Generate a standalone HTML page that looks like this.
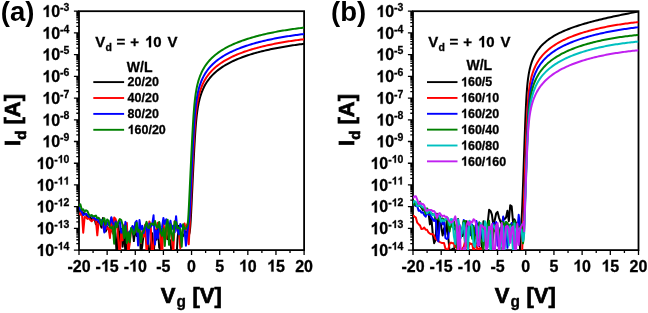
<!DOCTYPE html>
<html><head><meta charset="utf-8"><style>
html,body{margin:0;padding:0;background:#fff;}
svg{display:block;will-change:transform;}
text{font-family:"Liberation Sans",sans-serif;font-weight:bold;fill:#000;stroke:#000;stroke-width:0.3px;}
.big{stroke-width:0.7px;}
.nost{stroke-width:0;}
.one{fill-opacity:0;stroke-opacity:0;}
</style></head><body>
<svg width="648" height="313" viewBox="0 0 648 313">
<defs><clipPath id="ca"><rect x="79.0" y="11.2" width="225.10000000000002" height="238.9"/></clipPath><clipPath id="cb"><rect x="413.0" y="11.2" width="225.5" height="238.9"/></clipPath></defs>
<rect x="79.0" y="11.2" width="225.10000000000002" height="238.9" fill="none" stroke="#000" stroke-width="1.8"/>
<path d="M73.90 250.10H79.0M76.30 243.56H79.0M76.30 239.74H79.0M76.30 237.02H79.0M76.30 234.92H79.0M76.30 233.20H79.0M76.30 231.75H79.0M76.30 230.49H79.0M76.30 229.38H79.0M73.90 228.38H79.0M76.30 221.84H79.0M76.30 218.02H79.0M76.30 215.31H79.0M76.30 213.20H79.0M76.30 211.48H79.0M76.30 210.03H79.0M76.30 208.77H79.0M76.30 207.66H79.0M73.90 206.66H79.0M76.30 200.13H79.0M76.30 196.30H79.0M76.30 193.59H79.0M76.30 191.48H79.0M76.30 189.76H79.0M76.30 188.31H79.0M76.30 187.05H79.0M76.30 185.94H79.0M73.90 184.95H79.0M76.30 178.41H79.0M76.30 174.58H79.0M76.30 171.87H79.0M76.30 169.77H79.0M76.30 168.05H79.0M76.30 166.59H79.0M76.30 165.33H79.0M76.30 164.22H79.0M73.90 163.23H79.0M76.30 156.69H79.0M76.30 152.87H79.0M76.30 150.15H79.0M76.30 148.05H79.0M76.30 146.33H79.0M76.30 144.87H79.0M76.30 143.61H79.0M76.30 142.50H79.0M73.90 141.51H79.0M76.30 134.97H79.0M76.30 131.15H79.0M76.30 128.43H79.0M76.30 126.33H79.0M76.30 124.61H79.0M76.30 123.16H79.0M76.30 121.90H79.0M76.30 120.78H79.0M73.90 119.79H79.0M76.30 113.25H79.0M76.30 109.43H79.0M76.30 106.72H79.0M76.30 104.61H79.0M76.30 102.89H79.0M76.30 101.44H79.0M76.30 100.18H79.0M76.30 99.07H79.0M73.90 98.07H79.0M76.30 91.53H79.0M76.30 87.71H79.0M76.30 85.00H79.0M76.30 82.89H79.0M76.30 81.17H79.0M76.30 79.72H79.0M76.30 78.46H79.0M76.30 77.35H79.0M73.90 76.35H79.0M76.30 69.82H79.0M76.30 65.99H79.0M76.30 63.28H79.0M76.30 61.17H79.0M76.30 59.45H79.0M76.30 58.00H79.0M76.30 56.74H79.0M76.30 55.63H79.0M73.90 54.64H79.0M76.30 48.10H79.0M76.30 44.27H79.0M76.30 41.56H79.0M76.30 39.46H79.0M76.30 37.74H79.0M76.30 36.28H79.0M76.30 35.02H79.0M76.30 33.91H79.0M73.90 32.92H79.0M76.30 26.38H79.0M76.30 22.56H79.0M76.30 19.84H79.0M76.30 17.74H79.0M76.30 16.02H79.0M76.30 14.56H79.0M76.30 13.30H79.0M76.30 12.19H79.0M73.90 11.20H79.0M79.00 250.1V255.1M93.07 250.1V253.1M107.14 250.1V255.1M121.21 250.1V253.1M135.28 250.1V255.1M149.34 250.1V253.1M163.41 250.1V255.1M177.48 250.1V253.1M191.55 250.1V255.1M205.62 250.1V253.1M219.69 250.1V255.1M233.76 250.1V253.1M247.83 250.1V255.1M261.89 250.1V253.1M275.96 250.1V255.1M290.03 250.1V253.1M304.10 250.1V255.1" stroke="#000" stroke-width="1.3" fill="none"/>
<text transform="matrix(1 0 0 1.03 0 -7.677)" x="69.4" y="255.90" font-size="16" text-anchor="end"><tspan class="one">1</tspan>0<tspan font-size="10.5" dy="-6.0">-<tspan class="one">1</tspan>4</tspan></text>
<text transform="matrix(1 0 0 1.03 0 -7.025)" x="69.4" y="234.18" font-size="16" text-anchor="end"><tspan class="one">1</tspan>0<tspan font-size="10.5" dy="-6.0">-<tspan class="one">1</tspan>3</tspan></text>
<text transform="matrix(1 0 0 1.03 0 -6.374)" x="69.4" y="212.46" font-size="16" text-anchor="end"><tspan class="one">1</tspan>0<tspan font-size="10.5" dy="-6.0">-<tspan class="one">1</tspan>2</tspan></text>
<text transform="matrix(1 0 0 1.03 0 -5.723)" x="69.4" y="190.75" font-size="16" text-anchor="end"><tspan class="one">1</tspan>0<tspan font-size="10.5" dy="-6.0">-<tspan class="one">1</tspan><tspan class="one">1</tspan></tspan></text>
<text transform="matrix(1 0 0 1.03 0 -5.071)" x="69.4" y="169.03" font-size="16" text-anchor="end"><tspan class="one">1</tspan>0<tspan font-size="10.5" dy="-6.0">-<tspan class="one">1</tspan>0</tspan></text>
<text transform="matrix(1 0 0 1.03 0 -4.419)" x="69.4" y="147.31" font-size="16" text-anchor="end"><tspan class="one">1</tspan>0<tspan font-size="10.5" dy="-6.0">-9</tspan></text>
<text transform="matrix(1 0 0 1.03 0 -3.768)" x="69.4" y="125.59" font-size="16" text-anchor="end"><tspan class="one">1</tspan>0<tspan font-size="10.5" dy="-6.0">-8</tspan></text>
<text transform="matrix(1 0 0 1.03 0 -3.116)" x="69.4" y="103.87" font-size="16" text-anchor="end"><tspan class="one">1</tspan>0<tspan font-size="10.5" dy="-6.0">-7</tspan></text>
<text transform="matrix(1 0 0 1.03 0 -2.465)" x="69.4" y="82.15" font-size="16" text-anchor="end"><tspan class="one">1</tspan>0<tspan font-size="10.5" dy="-6.0">-6</tspan></text>
<text transform="matrix(1 0 0 1.03 0 -1.813)" x="69.4" y="60.44" font-size="16" text-anchor="end"><tspan class="one">1</tspan>0<tspan font-size="10.5" dy="-6.0">-5</tspan></text>
<text transform="matrix(1 0 0 1.03 0 -1.162)" x="69.4" y="38.72" font-size="16" text-anchor="end"><tspan class="one">1</tspan>0<tspan font-size="10.5" dy="-6.0">-4</tspan></text>
<text transform="matrix(1 0 0 1.03 0 -0.510)" x="69.4" y="17.00" font-size="16" text-anchor="end"><tspan class="one">1</tspan>0<tspan font-size="10.5" dy="-6.0">-3</tspan></text>
<text transform="matrix(1 0 0 1.03 0 -8.148)" x="79.00" y="271.6" font-size="16" text-anchor="middle">-20</text>
<text transform="matrix(1 0 0 1.03 0 -8.148)" x="107.14" y="271.6" font-size="16" text-anchor="middle">-<tspan class="one">1</tspan>5</text>
<text transform="matrix(1 0 0 1.03 0 -8.148)" x="135.28" y="271.6" font-size="16" text-anchor="middle">-<tspan class="one">1</tspan>0</text>
<text transform="matrix(1 0 0 1.03 0 -8.148)" x="163.41" y="271.6" font-size="16" text-anchor="middle">-5</text>
<text transform="matrix(1 0 0 1.03 0 -8.148)" x="191.55" y="271.6" font-size="16" text-anchor="middle">0</text>
<text transform="matrix(1 0 0 1.03 0 -8.148)" x="219.69" y="271.6" font-size="16" text-anchor="middle">5</text>
<text transform="matrix(1 0 0 1.03 0 -8.148)" x="247.83" y="271.6" font-size="16" text-anchor="middle"><tspan class="one">1</tspan>0</text>
<text transform="matrix(1 0 0 1.03 0 -8.148)" x="275.96" y="271.6" font-size="16" text-anchor="middle"><tspan class="one">1</tspan>5</text>
<text transform="matrix(1 0 0 1.03 0 -8.148)" x="304.10" y="271.6" font-size="16" text-anchor="middle">20</text>
<text transform="matrix(1 0 0 1.03 0 -9.096)" class="big" x="160.80" y="303.2" font-size="22">V</text>
<text transform="matrix(1 0 0 1.03 0 -9.219)" x="176.60" y="307.3" font-size="15.5">g</text>
<text transform="matrix(1 0 0 1.03 0 -9.096)" class="big" x="192.40" y="303.2" font-size="22">[V]</text>
<text class="big" transform="translate(19.50,120) rotate(-90) scale(1,1.03)" font-size="22" text-anchor="middle">I<tspan font-size="15" dy="6">d</tspan><tspan dy="-6"> [A]</tspan></text>
<rect x="413.0" y="11.2" width="225.5" height="238.9" fill="none" stroke="#000" stroke-width="1.8"/>
<path d="M407.90 250.10H413.0M410.30 243.56H413.0M410.30 239.74H413.0M410.30 237.02H413.0M410.30 234.92H413.0M410.30 233.20H413.0M410.30 231.75H413.0M410.30 230.49H413.0M410.30 229.38H413.0M407.90 228.38H413.0M410.30 221.84H413.0M410.30 218.02H413.0M410.30 215.31H413.0M410.30 213.20H413.0M410.30 211.48H413.0M410.30 210.03H413.0M410.30 208.77H413.0M410.30 207.66H413.0M407.90 206.66H413.0M410.30 200.13H413.0M410.30 196.30H413.0M410.30 193.59H413.0M410.30 191.48H413.0M410.30 189.76H413.0M410.30 188.31H413.0M410.30 187.05H413.0M410.30 185.94H413.0M407.90 184.95H413.0M410.30 178.41H413.0M410.30 174.58H413.0M410.30 171.87H413.0M410.30 169.77H413.0M410.30 168.05H413.0M410.30 166.59H413.0M410.30 165.33H413.0M410.30 164.22H413.0M407.90 163.23H413.0M410.30 156.69H413.0M410.30 152.87H413.0M410.30 150.15H413.0M410.30 148.05H413.0M410.30 146.33H413.0M410.30 144.87H413.0M410.30 143.61H413.0M410.30 142.50H413.0M407.90 141.51H413.0M410.30 134.97H413.0M410.30 131.15H413.0M410.30 128.43H413.0M410.30 126.33H413.0M410.30 124.61H413.0M410.30 123.16H413.0M410.30 121.90H413.0M410.30 120.78H413.0M407.90 119.79H413.0M410.30 113.25H413.0M410.30 109.43H413.0M410.30 106.72H413.0M410.30 104.61H413.0M410.30 102.89H413.0M410.30 101.44H413.0M410.30 100.18H413.0M410.30 99.07H413.0M407.90 98.07H413.0M410.30 91.53H413.0M410.30 87.71H413.0M410.30 85.00H413.0M410.30 82.89H413.0M410.30 81.17H413.0M410.30 79.72H413.0M410.30 78.46H413.0M410.30 77.35H413.0M407.90 76.35H413.0M410.30 69.82H413.0M410.30 65.99H413.0M410.30 63.28H413.0M410.30 61.17H413.0M410.30 59.45H413.0M410.30 58.00H413.0M410.30 56.74H413.0M410.30 55.63H413.0M407.90 54.64H413.0M410.30 48.10H413.0M410.30 44.27H413.0M410.30 41.56H413.0M410.30 39.46H413.0M410.30 37.74H413.0M410.30 36.28H413.0M410.30 35.02H413.0M410.30 33.91H413.0M407.90 32.92H413.0M410.30 26.38H413.0M410.30 22.56H413.0M410.30 19.84H413.0M410.30 17.74H413.0M410.30 16.02H413.0M410.30 14.56H413.0M410.30 13.30H413.0M410.30 12.19H413.0M407.90 11.20H413.0M413.00 250.1V255.1M427.09 250.1V253.1M441.19 250.1V255.1M455.28 250.1V253.1M469.38 250.1V255.1M483.47 250.1V253.1M497.56 250.1V255.1M511.66 250.1V253.1M525.75 250.1V255.1M539.84 250.1V253.1M553.94 250.1V255.1M568.03 250.1V253.1M582.12 250.1V255.1M596.22 250.1V253.1M610.31 250.1V255.1M624.41 250.1V253.1M638.50 250.1V255.1" stroke="#000" stroke-width="1.3" fill="none"/>
<text transform="matrix(1 0 0 1.03 0 -7.677)" x="403.4" y="255.90" font-size="16" text-anchor="end"><tspan class="one">1</tspan>0<tspan font-size="10.5" dy="-6.0">-<tspan class="one">1</tspan>4</tspan></text>
<text transform="matrix(1 0 0 1.03 0 -7.025)" x="403.4" y="234.18" font-size="16" text-anchor="end"><tspan class="one">1</tspan>0<tspan font-size="10.5" dy="-6.0">-<tspan class="one">1</tspan>3</tspan></text>
<text transform="matrix(1 0 0 1.03 0 -6.374)" x="403.4" y="212.46" font-size="16" text-anchor="end"><tspan class="one">1</tspan>0<tspan font-size="10.5" dy="-6.0">-<tspan class="one">1</tspan>2</tspan></text>
<text transform="matrix(1 0 0 1.03 0 -5.723)" x="403.4" y="190.75" font-size="16" text-anchor="end"><tspan class="one">1</tspan>0<tspan font-size="10.5" dy="-6.0">-<tspan class="one">1</tspan><tspan class="one">1</tspan></tspan></text>
<text transform="matrix(1 0 0 1.03 0 -5.071)" x="403.4" y="169.03" font-size="16" text-anchor="end"><tspan class="one">1</tspan>0<tspan font-size="10.5" dy="-6.0">-<tspan class="one">1</tspan>0</tspan></text>
<text transform="matrix(1 0 0 1.03 0 -4.419)" x="403.4" y="147.31" font-size="16" text-anchor="end"><tspan class="one">1</tspan>0<tspan font-size="10.5" dy="-6.0">-9</tspan></text>
<text transform="matrix(1 0 0 1.03 0 -3.768)" x="403.4" y="125.59" font-size="16" text-anchor="end"><tspan class="one">1</tspan>0<tspan font-size="10.5" dy="-6.0">-8</tspan></text>
<text transform="matrix(1 0 0 1.03 0 -3.116)" x="403.4" y="103.87" font-size="16" text-anchor="end"><tspan class="one">1</tspan>0<tspan font-size="10.5" dy="-6.0">-7</tspan></text>
<text transform="matrix(1 0 0 1.03 0 -2.465)" x="403.4" y="82.15" font-size="16" text-anchor="end"><tspan class="one">1</tspan>0<tspan font-size="10.5" dy="-6.0">-6</tspan></text>
<text transform="matrix(1 0 0 1.03 0 -1.813)" x="403.4" y="60.44" font-size="16" text-anchor="end"><tspan class="one">1</tspan>0<tspan font-size="10.5" dy="-6.0">-5</tspan></text>
<text transform="matrix(1 0 0 1.03 0 -1.162)" x="403.4" y="38.72" font-size="16" text-anchor="end"><tspan class="one">1</tspan>0<tspan font-size="10.5" dy="-6.0">-4</tspan></text>
<text transform="matrix(1 0 0 1.03 0 -0.510)" x="403.4" y="17.00" font-size="16" text-anchor="end"><tspan class="one">1</tspan>0<tspan font-size="10.5" dy="-6.0">-3</tspan></text>
<text transform="matrix(1 0 0 1.03 0 -8.148)" x="413.00" y="271.6" font-size="16" text-anchor="middle">-20</text>
<text transform="matrix(1 0 0 1.03 0 -8.148)" x="441.19" y="271.6" font-size="16" text-anchor="middle">-<tspan class="one">1</tspan>5</text>
<text transform="matrix(1 0 0 1.03 0 -8.148)" x="469.38" y="271.6" font-size="16" text-anchor="middle">-<tspan class="one">1</tspan>0</text>
<text transform="matrix(1 0 0 1.03 0 -8.148)" x="497.56" y="271.6" font-size="16" text-anchor="middle">-5</text>
<text transform="matrix(1 0 0 1.03 0 -8.148)" x="525.75" y="271.6" font-size="16" text-anchor="middle">0</text>
<text transform="matrix(1 0 0 1.03 0 -8.148)" x="553.94" y="271.6" font-size="16" text-anchor="middle">5</text>
<text transform="matrix(1 0 0 1.03 0 -8.148)" x="582.12" y="271.6" font-size="16" text-anchor="middle"><tspan class="one">1</tspan>0</text>
<text transform="matrix(1 0 0 1.03 0 -8.148)" x="610.31" y="271.6" font-size="16" text-anchor="middle"><tspan class="one">1</tspan>5</text>
<text transform="matrix(1 0 0 1.03 0 -8.148)" x="638.50" y="271.6" font-size="16" text-anchor="middle">20</text>
<text transform="matrix(1 0 0 1.03 0 -9.096)" class="big" x="494.80" y="303.2" font-size="22">V</text>
<text transform="matrix(1 0 0 1.03 0 -9.219)" x="510.60" y="307.3" font-size="15.5">g</text>
<text transform="matrix(1 0 0 1.03 0 -9.096)" class="big" x="526.40" y="303.2" font-size="22">[V]</text>
<text class="big" transform="translate(353.50,120) rotate(-90) scale(1,1.03)" font-size="22" text-anchor="middle">I<tspan font-size="15" dy="6">d</tspan><tspan dy="-6"> [A]</tspan></text>
<g clip-path="url(#ca)" fill="none" stroke-width="2" stroke-linejoin="round">
<path stroke="#000000" d="M79.00 209.47 L80.41 210.44 L81.81 210.64 L83.22 213.47 L84.63 213.25 L86.03 214.64 L87.44 216.58 L88.85 217.20 L90.25 217.47 L91.66 219.36 L93.07 219.14 L94.48 218.28 L95.88 224.31 L97.29 221.82 L98.70 222.13 L100.10 223.38 L101.51 227.66 L102.92 218.06 L104.32 223.24 L105.73 231.44 L107.14 226.40 L108.54 229.66 L109.95 233.24 L111.36 228.27 L112.77 232.22 L114.17 224.81 L115.58 234.27 L116.99 261.30 L118.39 225.23 L119.80 241.40 L121.21 229.07 L122.61 246.74 L124.02 229.64 L125.43 253.48 L126.83 232.89 L128.24 258.41 L129.65 233.51 L131.05 232.42 L132.46 227.79 L133.87 241.04 L135.28 227.56 L136.68 236.02 L138.09 230.31 L139.50 228.15 L140.90 254.01 L142.31 245.49 L143.72 233.27 L145.12 231.82 L146.53 229.13 L147.94 230.22 L149.34 268.55 L150.75 246.54 L152.16 233.18 L153.56 253.85 L154.97 237.92 L156.38 239.70 L157.79 225.85 L159.19 247.55 L160.60 249.91 L162.01 231.04 L163.41 237.02 L164.82 231.43 L166.23 232.85 L167.63 238.98 L169.04 239.59 L170.45 240.57 L171.85 257.46 L173.26 263.77 L174.67 268.50 L176.07 265.72 L177.48 239.55 L178.89 225.87 L180.30 233.87 L181.70 234.79 L183.11 236.10 L184.52 233.60 L185.92 231.29 L186.09 231.59 L186.26 231.89 L186.43 232.18 L186.60 232.48 L186.77 232.77 L186.94 233.07 L187.10 233.36 L187.27 233.65 L187.33 233.75 L187.44 233.89 L187.61 234.10 L187.78 234.31 L187.95 234.50 L188.12 234.69 L188.29 234.87 L188.45 235.02 L188.62 235.14 L188.74 235.19 L188.79 235.09 L188.96 234.75 L189.13 234.33 L189.30 233.80 L189.47 233.13 L189.64 232.27 L189.81 231.18 L189.97 229.82 L190.14 228.15 L190.31 226.21 L190.48 223.93 L190.65 221.35 L190.82 218.51 L190.99 215.46 L191.16 212.25 L191.32 208.92 L191.49 205.50 L191.55 204.34 L191.66 202.02 L191.83 198.51 L192.00 194.97 L192.17 191.42 L192.34 187.86 L192.51 184.31 L192.68 180.76 L192.84 177.26 L193.01 173.74 L193.18 170.25 L193.35 166.80 L193.52 163.39 L193.69 160.02 L193.86 156.71 L194.03 153.47 L194.19 150.29 L194.36 147.20 L194.53 144.20 L194.70 141.30 L194.87 138.51 L195.04 135.83 L195.21 133.27 L195.38 130.84 L195.55 128.53 L195.71 126.35 L195.88 124.29 L196.05 122.35 L196.22 120.52 L196.39 118.80 L196.56 117.18 L196.73 115.66 L196.90 114.23 L197.06 112.88 L197.23 111.60 L197.40 110.39 L197.57 109.25 L197.74 108.16 L197.91 107.13 L198.08 106.15 L198.25 105.22 L198.42 104.33 L198.58 103.48 L198.75 102.66 L198.92 101.88 L199.09 101.13 L199.26 100.41 L199.43 99.72 L199.60 99.05 L199.77 98.41 L199.93 97.78 L199.99 97.58 L201.40 93.13 L202.81 89.56 L204.21 86.58 L205.62 84.02 L207.03 81.79 L208.43 79.80 L209.84 78.00 L211.25 76.37 L212.65 74.87 L214.06 73.49 L215.47 72.21 L216.87 71.01 L218.28 69.89 L219.69 68.84 L221.09 67.84 L222.50 66.90 L223.91 66.00 L225.31 65.15 L226.72 64.33 L228.13 63.56 L229.54 62.81 L230.94 62.10 L232.35 61.42 L233.76 60.76 L235.16 60.13 L236.57 59.52 L237.98 58.93 L239.38 58.36 L240.79 57.81 L242.20 57.28 L243.60 56.76 L245.01 56.27 L246.42 55.78 L247.83 55.31 L249.23 54.86 L250.64 54.42 L252.05 53.99 L253.45 53.57 L254.86 53.16 L256.27 52.77 L257.67 52.39 L259.08 52.01 L260.49 51.65 L261.89 51.29 L263.30 50.95 L264.71 50.61 L266.11 50.28 L267.52 49.96 L268.93 49.65 L270.34 49.34 L271.74 49.04 L273.15 48.75 L274.56 48.47 L275.96 48.19 L277.37 47.92 L278.78 47.66 L280.18 47.40 L281.59 47.15 L283.00 46.90 L284.40 46.66 L285.81 46.42 L287.22 46.19 L288.62 45.97 L290.03 45.75 L291.44 45.54 L292.85 45.33 L294.25 45.12 L295.66 44.92 L297.07 44.73 L298.47 44.54 L299.88 44.35 L301.29 44.17 L302.69 43.99 L304.10 43.82"/>
<path stroke="#ff0000" d="M79.00 212.77 L80.41 214.75 L81.81 210.63 L83.22 232.64 L84.63 217.10 L86.03 217.25 L87.44 218.97 L88.85 218.15 L90.25 219.93 L91.66 221.23 L93.07 219.56 L94.48 219.75 L95.88 219.62 L97.29 235.36 L98.70 220.85 L100.10 221.02 L101.51 222.76 L102.92 225.17 L104.32 231.11 L105.73 222.87 L107.14 229.09 L108.54 227.97 L109.95 237.91 L111.36 217.89 L112.77 233.48 L114.17 217.56 L115.58 218.98 L116.99 223.49 L118.39 240.45 L119.80 256.12 L121.21 231.95 L122.61 240.37 L124.02 225.22 L125.43 225.82 L126.83 222.96 L128.24 253.29 L129.65 244.01 L131.05 230.37 L132.46 226.91 L133.87 227.20 L135.28 225.33 L136.68 231.67 L138.09 230.74 L139.50 231.87 L140.90 242.76 L142.31 231.11 L143.72 236.64 L145.12 224.75 L146.53 251.61 L147.94 242.60 L149.34 221.47 L150.75 225.24 L152.16 261.61 L153.56 244.40 L154.97 232.02 L156.38 228.52 L157.79 222.70 L159.19 230.92 L160.60 235.82 L162.01 259.59 L163.41 223.48 L164.82 232.63 L166.23 238.68 L167.63 224.72 L169.04 232.74 L170.45 230.17 L171.85 237.37 L173.26 254.07 L174.67 221.26 L176.07 225.36 L177.48 230.96 L178.89 229.96 L180.30 248.25 L181.70 236.39 L183.11 229.32 L184.52 223.58 L185.92 229.72 L186.09 229.05 L186.26 228.38 L186.43 227.71 L186.60 227.04 L186.77 226.38 L186.94 225.71 L187.10 225.03 L187.27 224.36 L187.33 224.14 L187.44 226.31 L187.61 229.54 L187.78 232.73 L187.95 235.83 L188.12 238.75 L188.29 241.30 L188.45 243.23 L188.62 244.20 L188.74 244.18 L188.79 243.19 L188.96 240.19 L189.13 237.13 L189.30 234.01 L189.47 230.84 L189.64 227.62 L189.81 224.36 L189.97 221.05 L190.14 217.70 L190.31 214.49 L190.48 211.19 L190.65 207.82 L190.82 204.40 L190.99 200.93 L191.16 197.43 L191.32 193.90 L191.49 190.37 L191.55 189.18 L191.66 186.83 L191.83 183.29 L192.00 179.75 L192.17 176.22 L192.34 172.69 L192.51 169.19 L192.68 165.71 L192.84 162.27 L193.01 158.86 L193.18 155.50 L193.35 152.19 L193.52 148.94 L193.69 145.77 L193.86 142.67 L194.03 139.67 L194.19 136.77 L194.36 133.98 L194.53 131.31 L194.70 128.75 L194.87 126.31 L195.04 124.01 L195.21 121.82 L195.38 119.76 L195.55 117.82 L195.71 115.99 L195.88 114.27 L196.05 112.65 L196.22 111.13 L196.39 109.70 L196.56 108.35 L196.73 107.08 L196.90 105.87 L197.06 104.73 L197.23 103.65 L197.40 102.62 L197.57 101.64 L197.74 100.71 L197.91 99.82 L198.08 98.97 L198.25 98.15 L198.42 97.37 L198.58 96.62 L198.75 95.90 L198.92 95.21 L199.09 94.54 L199.26 93.90 L199.43 93.27 L199.60 92.67 L199.77 92.09 L199.93 91.52 L199.99 91.34 L201.40 87.25 L202.81 83.92 L204.21 81.11 L205.62 78.67 L207.03 76.53 L208.43 74.62 L209.84 72.88 L211.25 71.30 L212.65 69.85 L214.06 68.51 L215.47 67.25 L216.87 66.09 L218.28 64.99 L219.69 63.95 L221.09 62.98 L222.50 62.05 L223.91 61.17 L225.31 60.33 L226.72 59.53 L228.13 58.77 L229.54 58.03 L230.94 57.33 L232.35 56.66 L233.76 56.01 L235.16 55.38 L236.57 54.78 L237.98 54.20 L239.38 53.64 L240.79 53.09 L242.20 52.57 L243.60 52.06 L245.01 51.56 L246.42 51.09 L247.83 50.62 L249.23 50.17 L250.64 49.73 L252.05 49.31 L253.45 48.90 L254.86 48.49 L256.27 48.10 L257.67 47.72 L259.08 47.35 L260.49 46.99 L261.89 46.64 L263.30 46.29 L264.71 45.96 L266.11 45.63 L267.52 45.31 L268.93 45.00 L270.34 44.70 L271.74 44.40 L273.15 44.12 L274.56 43.83 L275.96 43.56 L277.37 43.29 L278.78 43.03 L280.18 42.77 L281.59 42.52 L283.00 42.28 L284.40 42.04 L285.81 41.80 L287.22 41.57 L288.62 41.35 L290.03 41.13 L291.44 40.92 L292.85 40.71 L294.25 40.51 L295.66 40.31 L297.07 40.12 L298.47 39.93 L299.88 39.75 L301.29 39.56 L302.69 39.39 L304.10 39.22"/>
<path stroke="#0000ff" d="M79.00 207.26 L80.41 210.19 L81.81 212.14 L83.22 215.00 L84.63 214.31 L86.03 213.70 L87.44 215.17 L88.85 217.00 L90.25 215.81 L91.66 216.00 L93.07 218.03 L94.48 218.17 L95.88 219.93 L97.29 217.99 L98.70 221.64 L100.10 223.29 L101.51 220.08 L102.92 222.79 L104.32 232.44 L105.73 226.49 L107.14 222.59 L108.54 225.08 L109.95 223.64 L111.36 217.19 L112.77 223.11 L114.17 225.16 L115.58 221.52 L116.99 225.47 L118.39 223.49 L119.80 221.42 L121.21 232.68 L122.61 229.59 L124.02 234.84 L125.43 221.87 L126.83 235.71 L128.24 239.83 L129.65 231.36 L131.05 230.81 L132.46 226.04 L133.87 234.28 L135.28 222.61 L136.68 220.91 L138.09 245.50 L139.50 220.07 L140.90 229.60 L142.31 225.82 L143.72 232.99 L145.12 227.18 L146.53 223.68 L147.94 244.04 L149.34 223.46 L150.75 226.75 L152.16 224.83 L153.56 215.27 L154.97 244.49 L156.38 230.43 L157.79 238.44 L159.19 222.49 L160.60 232.29 L162.01 227.44 L163.41 217.89 L164.82 224.04 L166.23 219.33 L167.63 221.24 L169.04 228.73 L170.45 220.65 L171.85 229.33 L173.26 225.59 L174.67 232.38 L176.07 216.20 L177.48 230.65 L178.89 234.41 L180.30 224.00 L181.70 226.51 L183.11 227.46 L184.52 229.43 L185.92 245.77 L186.09 244.12 L186.26 242.47 L186.43 240.81 L186.60 239.14 L186.77 237.48 L186.94 235.80 L187.10 234.12 L187.27 232.43 L187.33 231.87 L187.44 231.17 L187.61 230.11 L187.78 229.02 L187.95 227.89 L188.12 226.70 L188.29 225.44 L188.45 224.09 L188.62 222.64 L188.74 221.61 L188.79 221.86 L188.96 222.10 L189.13 221.43 L189.30 219.86 L189.47 217.55 L189.64 214.70 L189.81 211.51 L189.97 208.12 L190.14 204.62 L190.31 201.00 L190.48 197.38 L190.65 193.76 L190.82 190.16 L190.99 186.55 L191.16 182.96 L191.32 179.37 L191.49 175.80 L191.55 174.61 L191.66 172.25 L191.83 168.72 L192.00 165.21 L192.17 161.72 L192.34 158.26 L192.51 154.84 L192.68 151.46 L192.84 148.14 L193.01 144.87 L193.18 141.67 L193.35 138.55 L193.52 135.52 L193.69 132.59 L193.86 129.76 L194.03 127.04 L194.19 124.44 L194.36 121.97 L194.53 119.62 L194.70 117.39 L194.87 115.29 L195.04 113.31 L195.21 111.44 L195.38 109.69 L195.55 108.04 L195.71 106.49 L195.88 105.02 L196.05 103.65 L196.22 102.35 L196.39 101.12 L196.56 99.96 L196.73 98.86 L196.90 97.82 L197.06 96.83 L197.23 95.89 L197.40 94.98 L197.57 94.12 L197.74 93.29 L197.91 92.50 L198.08 91.74 L198.25 91.01 L198.42 90.31 L198.58 89.63 L198.75 88.98 L198.92 88.35 L199.09 87.74 L199.26 87.15 L199.43 86.58 L199.60 86.03 L199.77 85.49 L199.93 84.97 L199.99 84.80 L201.40 80.98 L202.81 77.84 L204.21 75.16 L205.62 72.83 L207.03 70.76 L208.43 68.91 L209.84 67.23 L211.25 65.69 L212.65 64.28 L214.06 62.96 L215.47 61.74 L216.87 60.59 L218.28 59.52 L219.69 58.50 L221.09 57.54 L222.50 56.63 L223.91 55.76 L225.31 54.93 L226.72 54.15 L228.13 53.39 L229.54 52.67 L230.94 51.97 L232.35 51.31 L233.76 50.67 L235.16 50.05 L236.57 49.45 L237.98 48.88 L239.38 48.32 L240.79 47.78 L242.20 47.26 L243.60 46.76 L245.01 46.27 L246.42 45.79 L247.83 45.33 L249.23 44.89 L250.64 44.45 L252.05 44.03 L253.45 43.62 L254.86 43.22 L256.27 42.83 L257.67 42.46 L259.08 42.09 L260.49 41.73 L261.89 41.38 L263.30 41.04 L264.71 40.71 L266.11 40.38 L267.52 40.07 L268.93 39.76 L270.34 39.46 L271.74 39.16 L273.15 38.87 L274.56 38.59 L275.96 38.32 L277.37 38.05 L278.78 37.79 L280.18 37.54 L281.59 37.29 L283.00 37.05 L284.40 36.81 L285.81 36.58 L287.22 36.35 L288.62 36.13 L290.03 35.91 L291.44 35.70 L292.85 35.49 L294.25 35.29 L295.66 35.09 L297.07 34.90 L298.47 34.71 L299.88 34.53 L301.29 34.35 L302.69 34.18 L304.10 34.00"/>
<path stroke="#008000" d="M79.00 206.43 L80.41 204.41 L81.81 209.71 L83.22 209.38 L84.63 211.66 L86.03 210.25 L87.44 211.14 L88.85 214.49 L90.25 216.04 L91.66 214.97 L93.07 216.39 L94.48 216.03 L95.88 215.59 L97.29 218.16 L98.70 217.78 L100.10 219.87 L101.51 224.89 L102.92 220.11 L104.32 218.20 L105.73 224.56 L107.14 219.49 L108.54 220.79 L109.95 227.25 L111.36 228.30 L112.77 226.26 L114.17 243.75 L115.58 223.11 L116.99 227.16 L118.39 221.79 L119.80 219.02 L121.21 220.07 L122.61 224.95 L124.02 238.13 L125.43 226.03 L126.83 243.04 L128.24 232.14 L129.65 242.17 L131.05 227.88 L132.46 230.35 L133.87 234.55 L135.28 231.24 L136.68 222.85 L138.09 231.68 L139.50 229.73 L140.90 242.51 L142.31 232.73 L143.72 230.47 L145.12 226.47 L146.53 221.86 L147.94 227.51 L149.34 227.94 L150.75 223.65 L152.16 223.61 L153.56 225.01 L154.97 221.05 L156.38 226.64 L157.79 227.60 L159.19 221.90 L160.60 231.99 L162.01 235.79 L163.41 228.50 L164.82 246.03 L166.23 224.76 L167.63 219.74 L169.04 244.84 L170.45 224.23 L171.85 233.29 L173.26 240.52 L174.67 221.54 L176.07 222.07 L177.48 228.26 L178.89 227.63 L180.30 229.41 L181.70 246.75 L183.11 224.18 L184.52 228.96 L185.92 228.20 L186.09 227.99 L186.26 227.77 L186.43 227.52 L186.60 227.23 L186.77 226.88 L186.94 226.46 L187.10 225.94 L187.27 225.28 L187.33 225.02 L187.44 224.80 L187.61 224.19 L187.78 223.17 L187.95 221.71 L188.12 219.78 L188.29 217.44 L188.45 214.73 L188.62 211.75 L188.74 209.64 L188.79 208.51 L188.96 205.09 L189.13 201.61 L189.30 198.10 L189.47 194.57 L189.64 191.01 L189.81 187.44 L189.97 183.86 L190.14 180.28 L190.31 176.70 L190.48 173.13 L190.65 169.56 L190.82 166.01 L190.99 162.47 L191.16 158.95 L191.32 155.45 L191.49 151.99 L191.55 150.85 L191.66 148.57 L191.83 145.19 L192.00 141.86 L192.17 138.59 L192.34 135.39 L192.51 132.27 L192.68 129.24 L192.84 126.31 L193.01 123.48 L193.18 120.76 L193.35 118.16 L193.52 115.69 L193.69 113.34 L193.86 111.11 L194.03 109.01 L194.19 107.03 L194.36 105.17 L194.53 103.41 L194.70 101.76 L194.87 100.21 L195.04 98.75 L195.21 97.37 L195.38 96.07 L195.55 94.84 L195.71 93.68 L195.88 92.59 L196.05 91.54 L196.22 90.55 L196.39 89.61 L196.56 88.71 L196.73 87.85 L196.90 87.03 L197.06 86.25 L197.23 85.49 L197.40 84.76 L197.57 84.06 L197.74 83.38 L197.91 82.73 L198.08 82.10 L198.25 81.49 L198.42 80.90 L198.58 80.33 L198.75 79.77 L198.92 79.24 L199.09 78.72 L199.26 78.21 L199.43 77.72 L199.60 77.24 L199.77 76.77 L199.93 76.31 L199.99 76.16 L201.40 72.78 L202.81 69.93 L204.21 67.47 L205.62 65.31 L207.03 63.37 L208.43 61.63 L209.84 60.03 L211.25 58.57 L212.65 57.22 L214.06 55.96 L215.47 54.78 L216.87 53.68 L218.28 52.64 L219.69 51.65 L221.09 50.72 L222.50 49.84 L223.91 49.00 L225.31 48.19 L226.72 47.42 L228.13 46.69 L229.54 45.98 L230.94 45.30 L232.35 44.65 L233.76 44.02 L235.16 43.42 L236.57 42.83 L237.98 42.27 L239.38 41.72 L240.79 41.19 L242.20 40.68 L243.60 40.19 L245.01 39.71 L246.42 39.24 L247.83 38.79 L249.23 38.35 L250.64 37.92 L252.05 37.50 L253.45 37.10 L254.86 36.71 L256.27 36.32 L257.67 35.95 L259.08 35.59 L260.49 35.23 L261.89 34.89 L263.30 34.55 L264.71 34.22 L266.11 33.90 L267.52 33.59 L268.93 33.29 L270.34 32.99 L271.74 32.70 L273.15 32.42 L274.56 32.14 L275.96 31.87 L277.37 31.60 L278.78 31.35 L280.18 31.09 L281.59 30.85 L283.00 30.61 L284.40 30.37 L285.81 30.14 L287.22 29.92 L288.62 29.70 L290.03 29.48 L291.44 29.28 L292.85 29.07 L294.25 28.87 L295.66 28.68 L297.07 28.49 L298.47 28.30 L299.88 28.12 L301.29 27.94 L302.69 27.77 L304.10 27.60"/>
</g>
<g clip-path="url(#cb)" fill="none" stroke-width="2" stroke-linejoin="round">
<path stroke="#000000" d="M413.00 203.35 L414.41 202.42 L415.82 205.62 L417.23 205.17 L418.64 205.78 L420.05 205.42 L421.46 207.64 L422.87 210.13 L424.27 209.18 L425.68 211.54 L427.09 213.51 L428.50 212.47 L429.91 224.37 L431.32 217.36 L432.73 233.64 L434.14 243.21 L435.55 240.05 L436.96 213.73 L438.37 233.19 L439.78 215.80 L441.19 226.54 L442.60 235.44 L444.01 228.32 L445.42 234.34 L446.82 220.48 L448.23 236.78 L449.64 252.11 L451.05 250.84 L452.46 248.77 L453.87 252.92 L455.28 237.64 L456.69 225.28 L458.10 219.09 L459.51 242.66 L460.92 234.50 L462.33 235.99 L463.74 222.18 L465.15 245.94 L466.56 221.25 L467.97 239.23 L469.38 225.86 L470.78 227.51 L472.19 228.29 L473.60 231.12 L475.01 228.02 L476.42 245.94 L477.83 232.98 L479.24 246.11 L480.65 227.67 L482.06 247.89 L483.47 221.19 L484.88 238.24 L486.29 231.26 L487.70 223.45 L489.11 209.78 L490.52 210.91 L491.93 214.57 L493.33 225.44 L494.74 220.28 L496.15 213.45 L497.56 211.88 L498.97 217.56 L500.38 221.39 L501.79 223.88 L503.20 217.63 L504.61 219.19 L506.02 217.63 L507.43 210.66 L508.84 221.23 L510.25 205.16 L511.66 206.31 L513.07 222.48 L514.48 219.33 L515.88 222.82 L517.29 224.65 L518.70 226.36 L520.11 249.13 L520.28 245.62 L520.45 242.08 L520.62 238.51 L520.79 234.90 L520.96 231.24 L521.13 227.54 L521.30 223.78 L521.47 219.96 L521.52 218.67 L521.63 217.53 L521.80 215.23 L521.97 212.21 L522.14 208.58 L522.31 204.48 L522.48 200.05 L522.65 195.42 L522.82 190.65 L522.93 187.43 L522.99 185.81 L523.16 180.93 L523.33 176.04 L523.50 171.13 L523.66 166.23 L523.83 161.34 L524.00 156.47 L524.17 151.62 L524.34 146.81 L524.51 142.04 L524.68 137.33 L524.85 132.70 L525.02 128.17 L525.19 123.75 L525.36 119.47 L525.52 115.37 L525.69 111.46 L525.86 107.76 L526.03 104.29 L526.20 101.06 L526.37 98.07 L526.54 95.32 L526.71 92.79 L526.88 90.47 L527.05 88.34 L527.22 86.39 L527.38 84.60 L527.55 82.94 L527.72 81.41 L527.89 79.99 L528.06 78.67 L528.23 77.44 L528.40 76.28 L528.57 75.20 L528.74 74.17 L528.91 73.20 L529.08 72.29 L529.25 71.42 L529.41 70.59 L529.58 69.80 L529.75 69.04 L529.92 68.31 L530.09 67.62 L530.26 66.95 L530.43 66.31 L530.60 65.69 L530.77 65.09 L530.94 64.51 L531.11 63.95 L531.27 63.41 L531.44 62.89 L531.61 62.39 L531.78 61.90 L531.95 61.42 L532.12 60.96 L532.29 60.52 L532.46 60.08 L532.63 59.65 L532.80 59.24 L532.97 58.83 L533.14 58.44 L533.30 58.05 L533.47 57.68 L533.64 57.31 L533.81 56.95 L533.98 56.59 L534.15 56.25 L534.21 56.13 L535.62 53.52 L537.02 51.27 L538.43 49.28 L539.84 47.51 L541.25 45.92 L542.66 44.47 L544.07 43.13 L545.48 41.90 L546.89 40.75 L548.30 39.68 L549.71 38.67 L551.12 37.73 L552.53 36.83 L553.94 35.98 L555.35 35.17 L556.76 34.40 L558.17 33.67 L559.58 32.96 L560.98 32.28 L562.39 31.63 L563.80 31.01 L565.21 30.40 L566.62 29.82 L568.03 29.25 L569.44 28.71 L570.85 28.18 L572.26 27.66 L573.67 27.16 L575.08 26.67 L576.49 26.20 L577.90 25.73 L579.31 25.28 L580.72 24.84 L582.12 24.41 L583.53 23.99 L584.94 23.57 L586.35 23.17 L587.76 22.77 L589.17 22.38 L590.58 22.00 L591.99 21.62 L593.40 21.25 L594.81 20.89 L596.22 20.53 L597.63 20.18 L599.04 19.84 L600.45 19.49 L601.86 19.16 L603.27 18.82 L604.67 18.50 L606.08 18.17 L607.49 17.85 L608.90 17.53 L610.31 17.22 L611.72 16.91 L613.13 16.60 L614.54 16.30 L615.95 16.00 L617.36 15.70 L618.77 15.41 L620.18 15.12 L621.59 14.83 L623.00 14.54 L624.41 14.25 L625.82 13.97 L627.23 13.69 L628.63 13.41 L630.04 13.13 L631.45 12.86 L632.86 12.58 L634.27 12.31 L635.68 12.04 L637.09 11.77 L638.50 11.50"/>
<path stroke="#ff0000" d="M413.00 215.36 L414.41 216.56 L415.82 217.59 L417.23 222.68 L418.64 224.18 L420.05 225.56 L421.46 229.06 L422.87 228.79 L424.27 227.49 L425.68 229.76 L427.09 229.87 L428.50 232.41 L429.91 233.59 L431.32 234.21 L432.73 234.08 L434.14 235.53 L435.55 238.85 L436.96 239.85 L438.37 240.95 L439.78 242.08 L441.19 242.68 L442.60 243.02 L444.01 242.91 L445.42 248.41 L446.82 249.44 L448.23 249.58 L449.64 243.67 L451.05 242.58 L452.46 243.24 L453.87 243.16 L455.28 247.12 L456.69 245.31 L458.10 254.67 L459.51 246.04 L460.92 254.06 L462.33 248.49 L463.74 247.06 L465.15 241.23 L466.56 243.64 L467.97 251.14 L469.38 242.87 L470.78 244.00 L472.19 243.87 L473.60 251.39 L475.01 246.42 L476.42 244.73 L477.83 251.65 L479.24 248.20 L480.65 247.97 L482.06 256.71 L483.47 263.94 L484.88 254.74 L486.29 258.04 L487.70 256.62 L489.11 257.16 L490.52 254.93 L491.93 258.97 L493.33 264.55 L494.74 255.05 L496.15 258.39 L497.56 254.50 L498.97 262.34 L500.38 256.84 L501.79 247.66 L503.20 261.52 L504.61 266.67 L506.02 252.51 L507.43 262.52 L508.84 257.57 L510.25 259.19 L511.66 259.20 L513.07 263.70 L514.48 270.15 L515.88 262.50 L517.29 266.45 L518.70 257.03 L520.11 260.82 L520.28 260.73 L520.45 260.62 L520.62 260.49 L520.79 260.31 L520.96 260.06 L521.13 259.70 L521.30 259.15 L521.47 258.33 L521.52 257.97 L521.63 257.31 L521.80 255.80 L521.97 253.57 L522.14 250.62 L522.31 247.02 L522.48 242.94 L522.65 238.52 L522.82 233.88 L522.93 230.72 L522.99 229.11 L523.16 224.26 L523.33 219.36 L523.50 214.44 L523.66 209.51 L523.83 204.57 L524.00 199.63 L524.17 194.70 L524.34 189.76 L524.51 184.83 L524.68 179.90 L524.85 175.00 L525.02 170.10 L525.19 165.23 L525.36 160.39 L525.52 155.59 L525.69 150.85 L525.86 146.16 L526.03 141.56 L526.20 137.06 L526.37 132.69 L526.54 128.47 L526.71 124.42 L526.88 120.58 L527.05 116.96 L527.22 113.57 L527.38 110.42 L527.55 107.51 L527.72 104.83 L527.89 102.37 L528.06 100.12 L528.23 98.06 L528.40 96.16 L528.57 94.41 L528.74 92.80 L528.91 91.31 L529.08 89.92 L529.25 88.63 L529.41 87.43 L529.58 86.29 L529.75 85.23 L529.92 84.23 L530.09 83.28 L530.26 82.37 L530.43 81.52 L530.60 80.70 L530.77 79.92 L530.94 79.18 L531.11 78.46 L531.27 77.78 L531.44 77.11 L531.61 76.47 L531.78 75.85 L531.95 75.25 L532.12 74.67 L532.29 74.11 L532.46 73.57 L532.63 73.04 L532.80 72.53 L532.97 72.03 L533.14 71.55 L533.30 71.07 L533.47 70.62 L533.64 70.17 L533.81 69.73 L533.98 69.31 L534.15 68.89 L534.21 68.76 L535.62 65.65 L537.02 63.01 L538.43 60.71 L539.84 58.67 L541.25 56.83 L542.66 55.17 L544.07 53.65 L545.48 52.24 L546.89 50.94 L548.30 49.72 L549.71 48.58 L551.12 47.51 L552.53 46.50 L553.94 45.54 L555.35 44.63 L556.76 43.77 L558.17 42.94 L559.58 42.15 L560.98 41.39 L562.39 40.67 L563.80 39.97 L565.21 39.31 L566.62 38.66 L568.03 38.04 L569.44 37.44 L570.85 36.86 L572.26 36.31 L573.67 35.76 L575.08 35.24 L576.49 34.74 L577.90 34.24 L579.31 33.77 L580.72 33.31 L582.12 32.86 L583.53 32.42 L584.94 32.00 L586.35 31.59 L587.76 31.19 L589.17 30.80 L590.58 30.42 L591.99 30.05 L593.40 29.70 L594.81 29.35 L596.22 29.01 L597.63 28.68 L599.04 28.36 L600.45 28.04 L601.86 27.74 L603.27 27.44 L604.67 27.15 L606.08 26.87 L607.49 26.59 L608.90 26.32 L610.31 26.06 L611.72 25.81 L613.13 25.56 L614.54 25.31 L615.95 25.08 L617.36 24.85 L618.77 24.63 L620.18 24.41 L621.59 24.20 L623.00 23.99 L624.41 23.79 L625.82 23.59 L627.23 23.40 L628.63 23.22 L630.04 23.04 L631.45 22.86 L632.86 22.69 L634.27 22.53 L635.68 22.37 L637.09 22.21 L638.50 22.06"/>
<path stroke="#0000ff" d="M413.00 202.80 L414.41 205.23 L415.82 205.79 L417.23 206.13 L418.64 210.80 L420.05 210.47 L421.46 212.62 L422.87 212.28 L424.27 215.02 L425.68 216.64 L427.09 213.45 L428.50 214.51 L429.91 214.13 L431.32 217.15 L432.73 219.62 L434.14 220.97 L435.55 214.63 L436.96 237.56 L438.37 241.43 L439.78 222.03 L441.19 218.50 L442.60 224.39 L444.01 219.51 L445.42 237.96 L446.82 239.06 L448.23 237.57 L449.64 225.89 L451.05 223.10 L452.46 225.13 L453.87 228.36 L455.28 229.50 L456.69 229.78 L458.10 224.06 L459.51 224.87 L460.92 231.66 L462.33 232.90 L463.74 219.91 L465.15 231.14 L466.56 227.79 L467.97 231.22 L469.38 226.49 L470.78 235.35 L472.19 224.67 L473.60 232.74 L475.01 233.46 L476.42 221.08 L477.83 228.07 L479.24 223.13 L480.65 226.57 L482.06 233.95 L483.47 245.42 L484.88 225.12 L486.29 229.25 L487.70 232.04 L489.11 232.64 L490.52 242.61 L491.93 227.41 L493.33 223.00 L494.74 231.07 L496.15 222.09 L497.56 245.69 L498.97 237.08 L500.38 227.87 L501.79 241.85 L503.20 216.51 L504.61 238.68 L506.02 223.58 L507.43 247.85 L508.84 235.88 L510.25 227.48 L511.66 222.97 L513.07 230.01 L514.48 227.37 L515.88 225.55 L517.29 231.36 L518.70 214.79 L520.11 227.03 L520.28 227.31 L520.45 227.60 L520.62 227.88 L520.79 228.17 L520.96 228.45 L521.13 228.74 L521.30 229.02 L521.47 229.30 L521.52 229.40 L521.63 229.90 L521.80 230.65 L521.97 231.39 L522.14 232.13 L522.31 232.85 L522.48 233.54 L522.65 234.19 L522.82 234.75 L522.93 235.05 L522.99 234.93 L523.16 234.45 L523.33 233.68 L523.50 232.50 L523.66 230.80 L523.83 228.47 L524.00 225.51 L524.17 224.47 L524.34 219.51 L524.51 214.56 L524.68 209.61 L524.85 204.66 L525.02 199.71 L525.19 194.77 L525.36 189.84 L525.52 184.92 L525.69 180.01 L525.86 175.12 L526.03 170.25 L526.20 165.41 L526.37 160.61 L526.54 155.86 L526.71 151.18 L526.88 146.58 L527.05 142.08 L527.22 137.70 L527.38 133.48 L527.55 129.44 L527.72 125.60 L527.89 121.97 L528.06 118.58 L528.23 115.43 L528.40 112.52 L528.57 109.85 L528.74 107.39 L528.91 105.14 L529.08 103.07 L529.25 101.17 L529.41 99.43 L529.58 97.82 L529.75 96.33 L529.92 94.94 L530.09 93.65 L530.26 92.44 L530.43 91.31 L530.60 90.25 L530.77 89.24 L530.94 88.29 L531.11 87.39 L531.27 86.53 L531.44 85.72 L531.61 84.93 L531.78 84.18 L531.95 83.46 L532.12 82.76 L532.29 82.10 L532.46 81.46 L532.63 80.84 L532.80 80.24 L532.97 79.66 L533.14 79.11 L533.30 78.56 L533.47 78.04 L533.64 77.53 L533.81 77.03 L533.98 76.55 L534.15 76.08 L534.21 75.93 L535.62 72.47 L537.02 69.59 L538.43 67.11 L539.84 64.94 L541.25 63.00 L542.66 61.26 L544.07 59.67 L545.48 58.21 L546.89 56.86 L548.30 55.61 L549.71 54.43 L551.12 53.33 L552.53 52.30 L553.94 51.32 L555.35 50.39 L556.76 49.51 L558.17 48.67 L559.58 47.87 L560.98 47.10 L562.39 46.37 L563.80 45.66 L565.21 44.99 L566.62 44.33 L568.03 43.71 L569.44 43.10 L570.85 42.52 L572.26 41.95 L573.67 41.41 L575.08 40.88 L576.49 40.36 L577.90 39.87 L579.31 39.39 L580.72 38.92 L582.12 38.46 L583.53 38.02 L584.94 37.59 L586.35 37.18 L587.76 36.77 L589.17 36.38 L590.58 35.99 L591.99 35.62 L593.40 35.25 L594.81 34.89 L596.22 34.55 L597.63 34.21 L599.04 33.88 L600.45 33.56 L601.86 33.24 L603.27 32.93 L604.67 32.63 L606.08 32.34 L607.49 32.06 L608.90 31.78 L610.31 31.50 L611.72 31.24 L613.13 30.98 L614.54 30.72 L615.95 30.48 L617.36 30.23 L618.77 30.00 L620.18 29.77 L621.59 29.54 L623.00 29.32 L624.41 29.10 L625.82 28.89 L627.23 28.69 L628.63 28.49 L630.04 28.29 L631.45 28.10 L632.86 27.91 L634.27 27.73 L635.68 27.55 L637.09 27.38 L638.50 27.21"/>
<path stroke="#008000" d="M413.00 200.03 L414.41 204.97 L415.82 203.86 L417.23 204.19 L418.64 203.48 L420.05 201.66 L421.46 206.62 L422.87 208.48 L424.27 210.17 L425.68 213.98 L427.09 208.35 L428.50 212.72 L429.91 212.59 L431.32 213.31 L432.73 214.17 L434.14 214.53 L435.55 218.34 L436.96 219.06 L438.37 218.06 L439.78 220.65 L441.19 219.94 L442.60 218.41 L444.01 219.67 L445.42 219.86 L446.82 218.66 L448.23 225.06 L449.64 231.57 L451.05 220.07 L452.46 227.22 L453.87 221.14 L455.28 226.93 L456.69 247.48 L458.10 224.92 L459.51 233.25 L460.92 234.92 L462.33 227.80 L463.74 220.90 L465.15 221.04 L466.56 237.93 L467.97 230.34 L469.38 228.38 L470.78 224.70 L472.19 238.74 L473.60 225.91 L475.01 243.66 L476.42 236.89 L477.83 237.19 L479.24 222.26 L480.65 241.91 L482.06 239.98 L483.47 249.43 L484.88 225.92 L486.29 244.75 L487.70 225.55 L489.11 220.76 L490.52 246.37 L491.93 248.77 L493.33 234.67 L494.74 225.75 L496.15 224.85 L497.56 226.22 L498.97 230.57 L500.38 235.84 L501.79 222.03 L503.20 222.43 L504.61 226.55 L506.02 221.86 L507.43 222.75 L508.84 227.23 L510.25 224.31 L511.66 229.46 L513.07 225.25 L514.48 221.00 L515.88 226.89 L517.29 225.76 L518.70 227.11 L520.11 228.74 L520.28 228.15 L520.45 227.56 L520.62 226.96 L520.79 226.37 L520.96 225.78 L521.13 225.19 L521.30 224.60 L521.47 224.01 L521.52 223.81 L521.63 225.47 L521.80 227.95 L521.97 230.43 L522.14 232.90 L522.31 235.35 L522.48 237.76 L522.65 240.07 L522.82 242.18 L522.93 243.37 L522.99 243.16 L523.16 242.31 L523.33 241.03 L523.50 239.19 L523.66 236.72 L523.83 233.61 L524.00 229.95 L524.17 227.25 L524.34 222.30 L524.51 217.34 L524.68 212.40 L524.85 207.45 L525.02 202.51 L525.19 197.58 L525.36 192.66 L525.52 187.75 L525.69 182.86 L525.86 177.99 L526.03 173.15 L526.20 168.35 L526.37 163.60 L526.54 158.91 L526.71 154.31 L526.88 149.81 L527.05 145.44 L527.22 141.22 L527.38 137.18 L527.55 133.33 L527.72 129.71 L527.89 126.32 L528.06 123.17 L528.23 120.26 L528.40 117.58 L528.57 115.13 L528.74 112.87 L528.91 110.81 L529.08 108.91 L529.25 107.16 L529.41 105.55 L529.58 104.06 L529.75 102.68 L529.92 101.39 L530.09 100.18 L530.26 99.05 L530.43 97.98 L530.60 96.98 L530.77 96.03 L530.94 95.13 L531.11 94.27 L531.27 93.45 L531.44 92.67 L531.61 91.91 L531.78 91.19 L531.95 90.49 L532.12 89.82 L532.29 89.18 L532.46 88.56 L532.63 87.95 L532.80 87.37 L532.97 86.81 L533.14 86.26 L533.30 85.74 L533.47 85.22 L533.64 84.72 L533.81 84.24 L533.98 83.76 L534.15 83.30 L534.21 83.15 L535.62 79.75 L537.02 76.88 L538.43 74.42 L539.84 72.25 L541.25 70.31 L542.66 68.55 L544.07 66.95 L545.48 65.48 L546.89 64.12 L548.30 62.85 L549.71 61.67 L551.12 60.55 L552.53 59.50 L553.94 58.51 L555.35 57.57 L556.76 56.67 L558.17 55.82 L559.58 55.01 L560.98 54.23 L562.39 53.48 L563.80 52.77 L565.21 52.08 L566.62 51.42 L568.03 50.78 L569.44 50.17 L570.85 49.58 L572.26 49.01 L573.67 48.45 L575.08 47.92 L576.49 47.40 L577.90 46.90 L579.31 46.42 L580.72 45.95 L582.12 45.50 L583.53 45.05 L584.94 44.63 L586.35 44.21 L587.76 43.81 L589.17 43.42 L590.58 43.03 L591.99 42.66 L593.40 42.31 L594.81 41.96 L596.22 41.62 L597.63 41.29 L599.04 40.97 L600.45 40.65 L601.86 40.35 L603.27 40.06 L604.67 39.77 L606.08 39.49 L607.49 39.22 L608.90 38.96 L610.31 38.70 L611.72 38.45 L613.13 38.21 L614.54 37.97 L615.95 37.75 L617.36 37.52 L618.77 37.31 L620.18 37.10 L621.59 36.90 L623.00 36.70 L624.41 36.51 L625.82 36.33 L627.23 36.15 L628.63 35.98 L630.04 35.81 L631.45 35.65 L632.86 35.49 L634.27 35.34 L635.68 35.19 L637.09 35.05 L638.50 34.92"/>
<path stroke="#00c0c0" d="M413.00 203.29 L414.41 201.11 L415.82 201.87 L417.23 206.28 L418.64 205.80 L420.05 204.48 L421.46 206.39 L422.87 207.16 L424.27 207.79 L425.68 208.61 L427.09 213.35 L428.50 211.33 L429.91 210.17 L431.32 213.54 L432.73 215.29 L434.14 214.01 L435.55 216.15 L436.96 216.17 L438.37 214.86 L439.78 217.36 L441.19 221.75 L442.60 219.87 L444.01 221.14 L445.42 219.81 L446.82 218.18 L448.23 218.35 L449.64 225.15 L451.05 218.95 L452.46 219.42 L453.87 235.98 L455.28 243.94 L456.69 225.97 L458.10 219.45 L459.51 228.49 L460.92 237.67 L462.33 228.24 L463.74 222.92 L465.15 241.83 L466.56 227.20 L467.97 250.40 L469.38 220.65 L470.78 223.67 L472.19 227.08 L473.60 244.66 L475.01 246.86 L476.42 238.22 L477.83 226.49 L479.24 239.44 L480.65 223.02 L482.06 229.13 L483.47 240.95 L484.88 221.29 L486.29 224.91 L487.70 247.45 L489.11 227.40 L490.52 253.25 L491.93 228.11 L493.33 225.24 L494.74 227.85 L496.15 230.52 L497.56 225.55 L498.97 239.44 L500.38 252.45 L501.79 231.54 L503.20 226.16 L504.61 250.15 L506.02 228.84 L507.43 226.65 L508.84 245.36 L510.25 226.05 L511.66 231.95 L513.07 252.09 L514.48 223.58 L515.88 246.88 L517.29 230.75 L518.70 228.62 L520.11 228.22 L520.28 228.42 L520.45 228.62 L520.62 228.82 L520.79 229.02 L520.96 229.21 L521.13 229.41 L521.30 229.61 L521.47 229.81 L521.52 229.87 L521.63 230.80 L521.80 232.19 L521.97 233.57 L522.14 234.95 L522.31 236.33 L522.48 237.68 L522.65 239.00 L522.82 240.26 L522.93 241.03 L522.99 240.95 L523.16 240.61 L523.33 240.06 L523.50 239.20 L523.66 237.90 L523.83 236.04 L524.00 233.55 L524.17 233.94 L524.34 228.99 L524.51 224.03 L524.68 219.08 L524.85 214.14 L525.02 209.20 L525.19 204.27 L525.36 199.35 L525.52 194.44 L525.69 189.54 L525.86 184.68 L526.03 179.84 L526.20 175.04 L526.37 170.29 L526.54 165.60 L526.71 161.00 L526.88 156.50 L527.05 152.13 L527.22 147.91 L527.38 143.86 L527.55 140.02 L527.72 136.40 L527.89 133.01 L528.06 129.86 L528.23 126.95 L528.40 124.27 L528.57 121.81 L528.74 119.56 L528.91 117.50 L529.08 115.60 L529.25 113.85 L529.41 112.24 L529.58 110.75 L529.75 109.37 L529.92 108.07 L530.09 106.87 L530.26 105.74 L530.43 104.67 L530.60 103.67 L530.77 102.72 L530.94 101.82 L531.11 100.96 L531.27 100.14 L531.44 99.36 L531.61 98.60 L531.78 97.88 L531.95 97.18 L532.12 96.51 L532.29 95.86 L532.46 95.24 L532.63 94.64 L532.80 94.06 L532.97 93.49 L533.14 92.95 L533.30 92.42 L533.47 91.90 L533.64 91.40 L533.81 90.92 L533.98 90.44 L534.15 89.98 L534.21 89.83 L535.62 86.42 L537.02 83.55 L538.43 81.08 L539.84 78.90 L541.25 76.96 L542.66 75.20 L544.07 73.60 L545.48 72.12 L546.89 70.76 L548.30 69.48 L549.71 68.30 L551.12 67.18 L552.53 66.12 L553.94 65.13 L555.35 64.18 L556.76 63.29 L558.17 62.43 L559.58 61.61 L560.98 60.83 L562.39 60.08 L563.80 59.37 L565.21 58.68 L566.62 58.01 L568.03 57.37 L569.44 56.76 L570.85 56.17 L572.26 55.59 L573.67 55.04 L575.08 54.51 L576.49 53.99 L577.90 53.49 L579.31 53.00 L580.72 52.53 L582.12 52.08 L583.53 51.64 L584.94 51.21 L586.35 50.79 L587.76 50.39 L589.17 50.00 L590.58 49.62 L591.99 49.25 L593.40 48.89 L594.81 48.54 L596.22 48.20 L597.63 47.87 L599.04 47.55 L600.45 47.24 L601.86 46.94 L603.27 46.65 L604.67 46.36 L606.08 46.09 L607.49 45.82 L608.90 45.56 L610.31 45.30 L611.72 45.06 L613.13 44.82 L614.54 44.59 L615.95 44.36 L617.36 44.14 L618.77 43.93 L620.18 43.73 L621.59 43.53 L623.00 43.34 L624.41 43.15 L625.82 42.97 L627.23 42.80 L628.63 42.63 L630.04 42.47 L631.45 42.31 L632.86 42.16 L634.27 42.01 L635.68 41.87 L637.09 41.74 L638.50 41.61"/>
<path stroke="#c020f0" d="M413.00 198.14 L414.41 196.42 L415.82 196.18 L417.23 199.52 L418.64 204.05 L420.05 202.46 L421.46 204.15 L422.87 203.94 L424.27 205.45 L425.68 210.41 L427.09 210.90 L428.50 209.59 L429.91 210.08 L431.32 210.07 L432.73 211.16 L434.14 211.05 L435.55 213.04 L436.96 218.02 L438.37 213.84 L439.78 213.05 L441.19 215.10 L442.60 216.18 L444.01 215.62 L445.42 216.88 L446.82 216.72 L448.23 219.63 L449.64 221.27 L451.05 222.61 L452.46 221.91 L453.87 219.86 L455.28 216.35 L456.69 223.54 L458.10 250.96 L459.51 226.09 L460.92 254.24 L462.33 255.30 L463.74 247.90 L465.15 250.77 L466.56 225.21 L467.97 221.60 L469.38 225.00 L470.78 221.62 L472.19 222.51 L473.60 219.19 L475.01 220.50 L476.42 224.94 L477.83 245.68 L479.24 245.45 L480.65 225.36 L482.06 225.52 L483.47 227.49 L484.88 227.15 L486.29 251.05 L487.70 246.25 L489.11 226.84 L490.52 228.88 L491.93 224.06 L493.33 255.85 L494.74 253.58 L496.15 225.52 L497.56 223.16 L498.97 253.17 L500.38 240.49 L501.79 223.08 L503.20 251.93 L504.61 244.67 L506.02 226.35 L507.43 225.89 L508.84 229.62 L510.25 242.84 L511.66 228.08 L513.07 226.33 L514.48 246.76 L515.88 253.95 L517.29 223.77 L518.70 245.01 L520.11 228.97 L520.28 228.56 L520.45 228.15 L520.62 227.74 L520.79 227.33 L520.96 226.92 L521.13 226.50 L521.30 226.09 L521.47 225.68 L521.52 225.54 L521.63 225.40 L521.80 225.19 L521.97 224.98 L522.14 224.77 L522.31 224.55 L522.48 224.33 L522.65 224.11 L522.82 223.87 L522.93 223.70 L522.99 223.69 L523.16 223.61 L523.33 223.49 L523.50 223.28 L523.66 222.94 L523.83 222.39 L524.00 221.53 L524.17 231.13 L524.34 226.18 L524.51 221.24 L524.68 216.30 L524.85 211.37 L525.02 206.46 L525.19 201.55 L525.36 196.67 L525.52 191.81 L525.69 186.98 L525.86 182.20 L526.03 177.47 L526.20 172.81 L526.37 168.24 L526.54 163.78 L526.71 159.45 L526.88 155.29 L527.05 151.31 L527.22 147.54 L527.38 143.99 L527.55 140.68 L527.72 137.61 L527.89 134.78 L528.06 132.18 L528.23 129.79 L528.40 127.60 L528.57 125.59 L528.74 123.75 L528.91 122.05 L529.08 120.48 L529.25 119.03 L529.41 117.67 L529.58 116.41 L529.75 115.23 L529.92 114.12 L530.09 113.08 L530.26 112.09 L530.43 111.16 L530.60 110.27 L530.77 109.43 L530.94 108.63 L531.11 107.86 L531.27 107.12 L531.44 106.42 L531.61 105.73 L531.78 105.07 L531.95 104.43 L532.12 103.81 L532.29 103.22 L532.46 102.64 L532.63 102.09 L532.80 101.55 L532.97 101.02 L533.14 100.51 L533.30 100.02 L533.47 99.54 L533.64 99.07 L533.81 98.61 L533.98 98.17 L534.15 97.73 L534.21 97.59 L535.62 94.36 L537.02 91.62 L538.43 89.24 L539.84 87.14 L541.25 85.26 L542.66 83.55 L544.07 81.99 L545.48 80.55 L546.89 79.21 L548.30 77.97 L549.71 76.80 L551.12 75.71 L552.53 74.67 L553.94 73.69 L555.35 72.77 L556.76 71.88 L558.17 71.04 L559.58 70.24 L560.98 69.47 L562.39 68.73 L563.80 68.02 L565.21 67.34 L566.62 66.68 L568.03 66.05 L569.44 65.45 L570.85 64.86 L572.26 64.29 L573.67 63.75 L575.08 63.22 L576.49 62.70 L577.90 62.21 L579.31 61.73 L580.72 61.26 L582.12 60.81 L583.53 60.37 L584.94 59.95 L586.35 59.53 L587.76 59.13 L589.17 58.74 L590.58 58.37 L591.99 58.00 L593.40 57.64 L594.81 57.29 L596.22 56.96 L597.63 56.63 L599.04 56.31 L600.45 56.00 L601.86 55.70 L603.27 55.40 L604.67 55.12 L606.08 54.84 L607.49 54.57 L608.90 54.31 L610.31 54.05 L611.72 53.81 L613.13 53.57 L614.54 53.33 L615.95 53.11 L617.36 52.89 L618.77 52.67 L620.18 52.47 L621.59 52.26 L623.00 52.07 L624.41 51.88 L625.82 51.70 L627.23 51.52 L628.63 51.35 L630.04 51.18 L631.45 51.02 L632.86 50.86 L634.27 50.71 L635.68 50.57 L637.09 50.43 L638.50 50.29"/>
</g>
<text transform="matrix(1 0 0 1.03 0 -1.416)" x="95.3" y="47.2" font-size="15" text-anchor="start" >V</text>
<text transform="matrix(1 0 0 1.03 0 -1.536)" x="105.6" y="51.2" font-size="10.5" text-anchor="start" >d</text>
<text transform="matrix(1 0 0 1.03 0 -1.416)" x="116.6" y="47.2" font-size="15" text-anchor="start" >=</text>
<text transform="matrix(1 0 0 1.03 0 -1.416)" x="130.2" y="47.2" font-size="15" text-anchor="start" >+</text>
<text transform="matrix(1 0 0 1.03 0 -1.416)" x="145.0" y="47.2" font-size="15" text-anchor="start" ><tspan class="one">1</tspan>0</text>
<text transform="matrix(1 0 0 1.03 0 -1.416)" x="167.5" y="47.2" font-size="15" text-anchor="start" >V</text>
<text transform="matrix(1 0 0 1.03 0 -2.154)" x="126.8" y="71.8" font-size="14" text-anchor="start" >W/L</text>
<path d="M93.3 82.10H124.1" stroke="#000" stroke-width="1.9"/>
<text transform="matrix(1 0 0 1.03 0 -2.592)" x="127.6" y="86.39999999999999" font-size="12.5" text-anchor="start" >20/20</text>
<path d="M93.3 98.00H124.1" stroke="#ff0000" stroke-width="1.9"/>
<text transform="matrix(1 0 0 1.03 0 -3.069)" x="127.6" y="102.3" font-size="12.5" text-anchor="start" >40/20</text>
<path d="M93.3 113.90H124.1" stroke="#0000ff" stroke-width="1.9"/>
<text transform="matrix(1 0 0 1.03 0 -3.546)" x="127.6" y="118.19999999999999" font-size="12.5" text-anchor="start" >80/20</text>
<path d="M93.3 129.80H124.1" stroke="#008000" stroke-width="1.9"/>
<text transform="matrix(1 0 0 1.03 0 -4.023)" x="127.6" y="134.10000000000002" font-size="12.5" text-anchor="start" ><tspan class="one">1</tspan>60/20</text>
<text transform="matrix(1 0 0 1.03 0 -1.416)" x="428.3" y="47.2" font-size="15" text-anchor="start" >V</text>
<text transform="matrix(1 0 0 1.03 0 -1.536)" x="438.6" y="51.2" font-size="10.5" text-anchor="start" >d</text>
<text transform="matrix(1 0 0 1.03 0 -1.416)" x="449.6" y="47.2" font-size="15" text-anchor="start" >=</text>
<text transform="matrix(1 0 0 1.03 0 -1.416)" x="463.2" y="47.2" font-size="15" text-anchor="start" >+</text>
<text transform="matrix(1 0 0 1.03 0 -1.416)" x="478.0" y="47.2" font-size="15" text-anchor="start" ><tspan class="one">1</tspan>0</text>
<text transform="matrix(1 0 0 1.03 0 -1.416)" x="500.5" y="47.2" font-size="15" text-anchor="start" >V</text>
<text transform="matrix(1 0 0 1.03 0 -2.109)" x="466.5" y="70.3" font-size="14" text-anchor="start" >W/L</text>
<path d="M427.0 82.10H457.5" stroke="#000" stroke-width="1.9"/>
<text transform="matrix(1 0 0 1.03 0 -2.592)" x="461.0" y="86.39999999999999" font-size="12.5" text-anchor="start" ><tspan class="one">1</tspan>60/5</text>
<path d="M427.0 97.95H457.5" stroke="#ff0000" stroke-width="1.9"/>
<text transform="matrix(1 0 0 1.03 0 -3.068)" x="461.0" y="102.24999999999999" font-size="12.5" text-anchor="start" ><tspan class="one">1</tspan>60/<tspan class="one">1</tspan>0</text>
<path d="M427.0 113.80H457.5" stroke="#0000ff" stroke-width="1.9"/>
<text transform="matrix(1 0 0 1.03 0 -3.543)" x="461.0" y="118.1" font-size="12.5" text-anchor="start" ><tspan class="one">1</tspan>60/20</text>
<path d="M427.0 129.65H457.5" stroke="#008000" stroke-width="1.9"/>
<text transform="matrix(1 0 0 1.03 0 -4.019)" x="461.0" y="133.95" font-size="12.5" text-anchor="start" ><tspan class="one">1</tspan>60/40</text>
<path d="M427.0 145.50H457.5" stroke="#00c0c0" stroke-width="1.9"/>
<text transform="matrix(1 0 0 1.03 0 -4.494)" x="461.0" y="149.8" font-size="12.5" text-anchor="start" ><tspan class="one">1</tspan>60/80</text>
<path d="M427.0 161.35H457.5" stroke="#c020f0" stroke-width="1.9"/>
<text transform="matrix(1 0 0 1.03 0 -4.970)" x="461.0" y="165.65" font-size="12.5" text-anchor="start" ><tspan class="one">1</tspan>60/<tspan class="one">1</tspan>60</text>
<text transform="matrix(1 0 0 1.03 0 -0.639)" x="0.8" y="21.3" font-size="27.5" text-anchor="start" class="nost">(a)</text>
<text transform="matrix(1 0 0 1.03 0 -0.639)" x="331.0" y="21.3" font-size="27.5" text-anchor="start" class="nost">(b)</text>
<path transform="matrix(1 0 0 1.03 0 -7.677) translate(36.445 255.900) scale(0.007812 -0.007812)" d="M825 0L544 0L544 1059Q390 915 181 846L181 1101Q291 1137 420 1237Q549 1338 597 1470L825 1470Z" fill="#000" stroke="#000" stroke-width="38.4"/>
<path transform="matrix(1 0 0 1.03 0 -7.677) translate(57.733 249.900) scale(0.005127 -0.005127)" d="M825 0L544 0L544 1059Q390 915 181 846L181 1101Q291 1137 420 1237Q549 1338 597 1470L825 1470Z" fill="#000" stroke="#000" stroke-width="58.5"/>
<path transform="matrix(1 0 0 1.03 0 -7.025) translate(36.445 234.180) scale(0.007812 -0.007812)" d="M825 0L544 0L544 1059Q390 915 181 846L181 1101Q291 1137 420 1237Q549 1338 597 1470L825 1470Z" fill="#000" stroke="#000" stroke-width="38.4"/>
<path transform="matrix(1 0 0 1.03 0 -7.025) translate(57.733 228.180) scale(0.005127 -0.005127)" d="M825 0L544 0L544 1059Q390 915 181 846L181 1101Q291 1137 420 1237Q549 1338 597 1470L825 1470Z" fill="#000" stroke="#000" stroke-width="58.5"/>
<path transform="matrix(1 0 0 1.03 0 -6.374) translate(36.445 212.460) scale(0.007812 -0.007812)" d="M825 0L544 0L544 1059Q390 915 181 846L181 1101Q291 1137 420 1237Q549 1338 597 1470L825 1470Z" fill="#000" stroke="#000" stroke-width="38.4"/>
<path transform="matrix(1 0 0 1.03 0 -6.374) translate(57.733 206.460) scale(0.005127 -0.005127)" d="M825 0L544 0L544 1059Q390 915 181 846L181 1101Q291 1137 420 1237Q549 1338 597 1470L825 1470Z" fill="#000" stroke="#000" stroke-width="58.5"/>
<path transform="matrix(1 0 0 1.03 0 -5.723) translate(36.445 190.750) scale(0.007812 -0.007812)" d="M825 0L544 0L544 1059Q390 915 181 846L181 1101Q291 1137 420 1237Q549 1338 597 1470L825 1470Z" fill="#000" stroke="#000" stroke-width="38.4"/>
<path transform="matrix(1 0 0 1.03 0 -5.723) translate(57.733 184.750) scale(0.005127 -0.005127)" d="M825 0L544 0L544 1059Q390 915 181 846L181 1101Q291 1137 420 1237Q549 1338 597 1470L825 1470Z" fill="#000" stroke="#000" stroke-width="58.5"/>
<path transform="matrix(1 0 0 1.03 0 -5.723) translate(63.566 184.750) scale(0.005127 -0.005127)" d="M825 0L544 0L544 1059Q390 915 181 846L181 1101Q291 1137 420 1237Q549 1338 597 1470L825 1470Z" fill="#000" stroke="#000" stroke-width="58.5"/>
<path transform="matrix(1 0 0 1.03 0 -5.071) translate(36.445 169.030) scale(0.007812 -0.007812)" d="M825 0L544 0L544 1059Q390 915 181 846L181 1101Q291 1137 420 1237Q549 1338 597 1470L825 1470Z" fill="#000" stroke="#000" stroke-width="38.4"/>
<path transform="matrix(1 0 0 1.03 0 -5.071) translate(57.733 163.030) scale(0.005127 -0.005127)" d="M825 0L544 0L544 1059Q390 915 181 846L181 1101Q291 1137 420 1237Q549 1338 597 1470L825 1470Z" fill="#000" stroke="#000" stroke-width="58.5"/>
<path transform="matrix(1 0 0 1.03 0 -4.419) translate(42.279 147.310) scale(0.007812 -0.007812)" d="M825 0L544 0L544 1059Q390 915 181 846L181 1101Q291 1137 420 1237Q549 1338 597 1470L825 1470Z" fill="#000" stroke="#000" stroke-width="38.4"/>
<path transform="matrix(1 0 0 1.03 0 -3.768) translate(42.279 125.590) scale(0.007812 -0.007812)" d="M825 0L544 0L544 1059Q390 915 181 846L181 1101Q291 1137 420 1237Q549 1338 597 1470L825 1470Z" fill="#000" stroke="#000" stroke-width="38.4"/>
<path transform="matrix(1 0 0 1.03 0 -3.116) translate(42.279 103.870) scale(0.007812 -0.007812)" d="M825 0L544 0L544 1059Q390 915 181 846L181 1101Q291 1137 420 1237Q549 1338 597 1470L825 1470Z" fill="#000" stroke="#000" stroke-width="38.4"/>
<path transform="matrix(1 0 0 1.03 0 -2.465) translate(42.279 82.150) scale(0.007812 -0.007812)" d="M825 0L544 0L544 1059Q390 915 181 846L181 1101Q291 1137 420 1237Q549 1338 597 1470L825 1470Z" fill="#000" stroke="#000" stroke-width="38.4"/>
<path transform="matrix(1 0 0 1.03 0 -1.813) translate(42.279 60.440) scale(0.007812 -0.007812)" d="M825 0L544 0L544 1059Q390 915 181 846L181 1101Q291 1137 420 1237Q549 1338 597 1470L825 1470Z" fill="#000" stroke="#000" stroke-width="38.4"/>
<path transform="matrix(1 0 0 1.03 0 -1.162) translate(42.279 38.720) scale(0.007812 -0.007812)" d="M825 0L544 0L544 1059Q390 915 181 846L181 1101Q291 1137 420 1237Q549 1338 597 1470L825 1470Z" fill="#000" stroke="#000" stroke-width="38.4"/>
<path transform="matrix(1 0 0 1.03 0 -0.510) translate(42.279 17.000) scale(0.007812 -0.007812)" d="M825 0L544 0L544 1059Q390 915 181 846L181 1101Q291 1137 420 1237Q549 1338 597 1470L825 1470Z" fill="#000" stroke="#000" stroke-width="38.4"/>
<path transform="matrix(1 0 0 1.03 0 -8.148) translate(100.906 271.600) scale(0.007812 -0.007812)" d="M825 0L544 0L544 1059Q390 915 181 846L181 1101Q291 1137 420 1237Q549 1338 597 1470L825 1470Z" fill="#000" stroke="#000" stroke-width="38.4"/>
<path transform="matrix(1 0 0 1.03 0 -8.148) translate(129.046 271.600) scale(0.007812 -0.007812)" d="M825 0L544 0L544 1059Q390 915 181 846L181 1101Q291 1137 420 1237Q549 1338 597 1470L825 1470Z" fill="#000" stroke="#000" stroke-width="38.4"/>
<path transform="matrix(1 0 0 1.03 0 -8.148) translate(238.933 271.600) scale(0.007812 -0.007812)" d="M825 0L544 0L544 1059Q390 915 181 846L181 1101Q291 1137 420 1237Q549 1338 597 1470L825 1470Z" fill="#000" stroke="#000" stroke-width="38.4"/>
<path transform="matrix(1 0 0 1.03 0 -8.148) translate(267.063 271.600) scale(0.007812 -0.007812)" d="M825 0L544 0L544 1059Q390 915 181 846L181 1101Q291 1137 420 1237Q549 1338 597 1470L825 1470Z" fill="#000" stroke="#000" stroke-width="38.4"/>
<path transform="matrix(1 0 0 1.03 0 -7.677) translate(370.445 255.900) scale(0.007812 -0.007812)" d="M825 0L544 0L544 1059Q390 915 181 846L181 1101Q291 1137 420 1237Q549 1338 597 1470L825 1470Z" fill="#000" stroke="#000" stroke-width="38.4"/>
<path transform="matrix(1 0 0 1.03 0 -7.677) translate(391.733 249.900) scale(0.005127 -0.005127)" d="M825 0L544 0L544 1059Q390 915 181 846L181 1101Q291 1137 420 1237Q549 1338 597 1470L825 1470Z" fill="#000" stroke="#000" stroke-width="58.5"/>
<path transform="matrix(1 0 0 1.03 0 -7.025) translate(370.445 234.180) scale(0.007812 -0.007812)" d="M825 0L544 0L544 1059Q390 915 181 846L181 1101Q291 1137 420 1237Q549 1338 597 1470L825 1470Z" fill="#000" stroke="#000" stroke-width="38.4"/>
<path transform="matrix(1 0 0 1.03 0 -7.025) translate(391.733 228.180) scale(0.005127 -0.005127)" d="M825 0L544 0L544 1059Q390 915 181 846L181 1101Q291 1137 420 1237Q549 1338 597 1470L825 1470Z" fill="#000" stroke="#000" stroke-width="58.5"/>
<path transform="matrix(1 0 0 1.03 0 -6.374) translate(370.445 212.460) scale(0.007812 -0.007812)" d="M825 0L544 0L544 1059Q390 915 181 846L181 1101Q291 1137 420 1237Q549 1338 597 1470L825 1470Z" fill="#000" stroke="#000" stroke-width="38.4"/>
<path transform="matrix(1 0 0 1.03 0 -6.374) translate(391.733 206.460) scale(0.005127 -0.005127)" d="M825 0L544 0L544 1059Q390 915 181 846L181 1101Q291 1137 420 1237Q549 1338 597 1470L825 1470Z" fill="#000" stroke="#000" stroke-width="58.5"/>
<path transform="matrix(1 0 0 1.03 0 -5.723) translate(370.445 190.750) scale(0.007812 -0.007812)" d="M825 0L544 0L544 1059Q390 915 181 846L181 1101Q291 1137 420 1237Q549 1338 597 1470L825 1470Z" fill="#000" stroke="#000" stroke-width="38.4"/>
<path transform="matrix(1 0 0 1.03 0 -5.723) translate(391.733 184.750) scale(0.005127 -0.005127)" d="M825 0L544 0L544 1059Q390 915 181 846L181 1101Q291 1137 420 1237Q549 1338 597 1470L825 1470Z" fill="#000" stroke="#000" stroke-width="58.5"/>
<path transform="matrix(1 0 0 1.03 0 -5.723) translate(397.566 184.750) scale(0.005127 -0.005127)" d="M825 0L544 0L544 1059Q390 915 181 846L181 1101Q291 1137 420 1237Q549 1338 597 1470L825 1470Z" fill="#000" stroke="#000" stroke-width="58.5"/>
<path transform="matrix(1 0 0 1.03 0 -5.071) translate(370.445 169.030) scale(0.007812 -0.007812)" d="M825 0L544 0L544 1059Q390 915 181 846L181 1101Q291 1137 420 1237Q549 1338 597 1470L825 1470Z" fill="#000" stroke="#000" stroke-width="38.4"/>
<path transform="matrix(1 0 0 1.03 0 -5.071) translate(391.733 163.030) scale(0.005127 -0.005127)" d="M825 0L544 0L544 1059Q390 915 181 846L181 1101Q291 1137 420 1237Q549 1338 597 1470L825 1470Z" fill="#000" stroke="#000" stroke-width="58.5"/>
<path transform="matrix(1 0 0 1.03 0 -4.419) translate(376.279 147.310) scale(0.007812 -0.007812)" d="M825 0L544 0L544 1059Q390 915 181 846L181 1101Q291 1137 420 1237Q549 1338 597 1470L825 1470Z" fill="#000" stroke="#000" stroke-width="38.4"/>
<path transform="matrix(1 0 0 1.03 0 -3.768) translate(376.279 125.590) scale(0.007812 -0.007812)" d="M825 0L544 0L544 1059Q390 915 181 846L181 1101Q291 1137 420 1237Q549 1338 597 1470L825 1470Z" fill="#000" stroke="#000" stroke-width="38.4"/>
<path transform="matrix(1 0 0 1.03 0 -3.116) translate(376.279 103.870) scale(0.007812 -0.007812)" d="M825 0L544 0L544 1059Q390 915 181 846L181 1101Q291 1137 420 1237Q549 1338 597 1470L825 1470Z" fill="#000" stroke="#000" stroke-width="38.4"/>
<path transform="matrix(1 0 0 1.03 0 -2.465) translate(376.279 82.150) scale(0.007812 -0.007812)" d="M825 0L544 0L544 1059Q390 915 181 846L181 1101Q291 1137 420 1237Q549 1338 597 1470L825 1470Z" fill="#000" stroke="#000" stroke-width="38.4"/>
<path transform="matrix(1 0 0 1.03 0 -1.813) translate(376.279 60.440) scale(0.007812 -0.007812)" d="M825 0L544 0L544 1059Q390 915 181 846L181 1101Q291 1137 420 1237Q549 1338 597 1470L825 1470Z" fill="#000" stroke="#000" stroke-width="38.4"/>
<path transform="matrix(1 0 0 1.03 0 -1.162) translate(376.279 38.720) scale(0.007812 -0.007812)" d="M825 0L544 0L544 1059Q390 915 181 846L181 1101Q291 1137 420 1237Q549 1338 597 1470L825 1470Z" fill="#000" stroke="#000" stroke-width="38.4"/>
<path transform="matrix(1 0 0 1.03 0 -0.510) translate(376.279 17.000) scale(0.007812 -0.007812)" d="M825 0L544 0L544 1059Q390 915 181 846L181 1101Q291 1137 420 1237Q549 1338 597 1470L825 1470Z" fill="#000" stroke="#000" stroke-width="38.4"/>
<path transform="matrix(1 0 0 1.03 0 -8.148) translate(434.956 271.600) scale(0.007812 -0.007812)" d="M825 0L544 0L544 1059Q390 915 181 846L181 1101Q291 1137 420 1237Q549 1338 597 1470L825 1470Z" fill="#000" stroke="#000" stroke-width="38.4"/>
<path transform="matrix(1 0 0 1.03 0 -8.148) translate(463.146 271.600) scale(0.007812 -0.007812)" d="M825 0L544 0L544 1059Q390 915 181 846L181 1101Q291 1137 420 1237Q549 1338 597 1470L825 1470Z" fill="#000" stroke="#000" stroke-width="38.4"/>
<path transform="matrix(1 0 0 1.03 0 -8.148) translate(573.223 271.600) scale(0.007812 -0.007812)" d="M825 0L544 0L544 1059Q390 915 181 846L181 1101Q291 1137 420 1237Q549 1338 597 1470L825 1470Z" fill="#000" stroke="#000" stroke-width="38.4"/>
<path transform="matrix(1 0 0 1.03 0 -8.148) translate(601.413 271.600) scale(0.007812 -0.007812)" d="M825 0L544 0L544 1059Q390 915 181 846L181 1101Q291 1137 420 1237Q549 1338 597 1470L825 1470Z" fill="#000" stroke="#000" stroke-width="38.4"/>
<path transform="matrix(1 0 0 1.03 0 -1.416) translate(145.000 47.200) scale(0.007324 -0.007324)" d="M825 0L544 0L544 1059Q390 915 181 846L181 1101Q291 1137 420 1237Q549 1338 597 1470L825 1470Z" fill="#000" stroke="#000" stroke-width="41.0"/>
<path transform="matrix(1 0 0 1.03 0 -4.023) translate(127.600 134.100) scale(0.006104 -0.006104)" d="M825 0L544 0L544 1059Q390 915 181 846L181 1101Q291 1137 420 1237Q549 1338 597 1470L825 1470Z" fill="#000" stroke="#000" stroke-width="49.2"/>
<path transform="matrix(1 0 0 1.03 0 -1.416) translate(478.000 47.200) scale(0.007324 -0.007324)" d="M825 0L544 0L544 1059Q390 915 181 846L181 1101Q291 1137 420 1237Q549 1338 597 1470L825 1470Z" fill="#000" stroke="#000" stroke-width="41.0"/>
<path transform="matrix(1 0 0 1.03 0 -2.592) translate(461.000 86.400) scale(0.006104 -0.006104)" d="M825 0L544 0L544 1059Q390 915 181 846L181 1101Q291 1137 420 1237Q549 1338 597 1470L825 1470Z" fill="#000" stroke="#000" stroke-width="49.2"/>
<path transform="matrix(1 0 0 1.03 0 -3.068) translate(461.000 102.250) scale(0.006104 -0.006104)" d="M825 0L544 0L544 1059Q390 915 181 846L181 1101Q291 1137 420 1237Q549 1338 597 1470L825 1470Z" fill="#000" stroke="#000" stroke-width="49.2"/>
<path transform="matrix(1 0 0 1.03 0 -3.068) translate(485.320 102.250) scale(0.006104 -0.006104)" d="M825 0L544 0L544 1059Q390 915 181 846L181 1101Q291 1137 420 1237Q549 1338 597 1470L825 1470Z" fill="#000" stroke="#000" stroke-width="49.2"/>
<path transform="matrix(1 0 0 1.03 0 -3.543) translate(461.000 118.100) scale(0.006104 -0.006104)" d="M825 0L544 0L544 1059Q390 915 181 846L181 1101Q291 1137 420 1237Q549 1338 597 1470L825 1470Z" fill="#000" stroke="#000" stroke-width="49.2"/>
<path transform="matrix(1 0 0 1.03 0 -4.019) translate(461.000 133.950) scale(0.006104 -0.006104)" d="M825 0L544 0L544 1059Q390 915 181 846L181 1101Q291 1137 420 1237Q549 1338 597 1470L825 1470Z" fill="#000" stroke="#000" stroke-width="49.2"/>
<path transform="matrix(1 0 0 1.03 0 -4.494) translate(461.000 149.800) scale(0.006104 -0.006104)" d="M825 0L544 0L544 1059Q390 915 181 846L181 1101Q291 1137 420 1237Q549 1338 597 1470L825 1470Z" fill="#000" stroke="#000" stroke-width="49.2"/>
<path transform="matrix(1 0 0 1.03 0 -4.970) translate(461.000 165.650) scale(0.006104 -0.006104)" d="M825 0L544 0L544 1059Q390 915 181 846L181 1101Q291 1137 420 1237Q549 1338 597 1470L825 1470Z" fill="#000" stroke="#000" stroke-width="49.2"/>
<path transform="matrix(1 0 0 1.03 0 -4.970) translate(485.320 165.650) scale(0.006104 -0.006104)" d="M825 0L544 0L544 1059Q390 915 181 846L181 1101Q291 1137 420 1237Q549 1338 597 1470L825 1470Z" fill="#000" stroke="#000" stroke-width="49.2"/>
</svg>
</body></html>
